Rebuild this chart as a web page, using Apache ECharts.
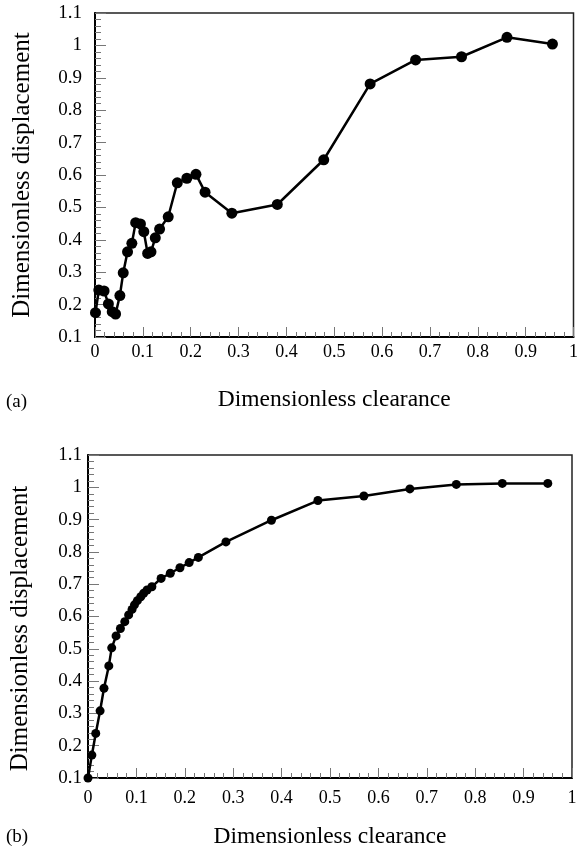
<!DOCTYPE html>
<html>
<head>
<meta charset="utf-8">
<script src="https://cdn.jsdelivr.net/npm/echarts@6/dist/echarts.min.js"></script>
<style>
html,body{margin:0;padding:0;background:#fff;}
#chart{width:581px;height:856px;}
</style>
</head>
<body>
<div id="chart"></div>
<script>
// (a) measured points
var clearanceA = [0.001,0.008,0.019,0.028,0.036,0.043,0.052,0.059,0.068,0.077,0.085,0.095,0.102,0.110,0.117,0.126,0.135,0.153,0.172,0.192,0.211,0.230,0.286,0.381,0.478,0.575,0.670,0.766,0.861,0.956];
var displacementA = [0.175,0.245,0.242,0.202,0.178,0.171,0.228,0.298,0.363,0.389,0.453,0.449,0.425,0.358,0.363,0.406,0.433,0.471,0.576,0.590,0.602,0.547,0.482,0.509,0.647,0.881,0.955,0.965,1.025,1.004];
// (b) points
var clearanceB = [0.000,0.008,0.016,0.025,0.033,0.043,0.049,0.058,0.067,0.076,0.084,0.091,0.096,0.102,0.109,0.115,0.122,0.132,0.151,0.170,0.190,0.209,0.228,0.285,0.379,0.475,0.570,0.665,0.761,0.856,0.950];
var displacementB = [0.100,0.171,0.238,0.308,0.378,0.447,0.503,0.540,0.563,0.584,0.605,0.622,0.636,0.649,0.661,0.672,0.682,0.692,0.718,0.734,0.751,0.767,0.783,0.831,0.898,0.959,0.973,0.995,1.009,1.012,1.012];

var axisFont = 'Liberation Serif';
function pairs(xs, ys){ return xs.map(function(x,i){ return [x, ys[i]]; }); }
function fmt(v){ return String(parseFloat(v.toFixed(1))); }

function xAxisCfg(gi, labelMargin, nameGap){
  return {
    type:'value', gridIndex:gi, min:0, max:1, interval:0.1,
    name:'Dimensionless clearance', nameLocation:'middle', nameGap:nameGap,
    nameTextStyle:{fontFamily:axisFont, fontSize:23.5, color:'#000'},
    axisLine:{show:true, onZero:false, lineStyle:{color:'#000', width:2}},
    axisTick:{show:true, inside:true, length:10, lineStyle:{color:'#777', width:1}},
    minorTick:{show:true, splitNumber:5, length:5, lineStyle:{color:'#777', width:1}},
    axisLabel:{fontFamily:axisFont, fontSize:18, color:'#000', margin:labelMargin, formatter:fmt},
    splitLine:{show:false}
  };
}
function yAxisCfg(gi, labelMargin, nameGap, pad){
  return {
    type:'value', gridIndex:gi, min:0.1, max:1.1, interval:0.1,
    name:'Dimensionless displacement', nameLocation:'middle', nameGap:nameGap,
    nameTextStyle:{fontFamily:axisFont, fontSize:25, color:'#000', padding:pad},
    axisLine:{show:true, onZero:false, lineStyle:{color:'#000', width:2}},
    axisTick:{show:true, inside:true, length:11, lineStyle:{color:'#777', width:1}},
    minorTick:{show:true, splitNumber:5, length:6, lineStyle:{color:'#777', width:1}},
    axisLabel:{fontFamily:axisFont, fontSize:19, color:'#000', margin:labelMargin, formatter:fmt},
    splitLine:{show:false}
  };
}

var chart = echarts.init(document.getElementById('chart'), null, {renderer:'canvas'});
chart.setOption({
  backgroundColor:'#fff',
  animation:false,
  grid:[
    {left:95, top:13, width:483, height:324, show:true, borderColor:'#222', borderWidth:1.5, containLabel:false},
    {left:86, top:455, width:486, height:323, show:true, borderColor:'#222', borderWidth:1.5, containLabel:false}
  ],
  xAxis:[ xAxisCfg(0, 6, 51), xAxisCfg(1, 11, 47) ],
  yAxis:[ yAxisCfg(0, 13, 60, [0,0,0,0]), yAxisCfg(1, 6, 55, [0,24,0,0]) ],
  graphic:[
    {type:'text', left:6, top:393, style:{text:'(a)', font:'19px "Liberation Serif"', fill:'#000'}},
    {type:'text', left:6, top:828, style:{text:'(b)', font:'19px "Liberation Serif"', fill:'#000'}}
  ],
  series:[
    {type:'line', xAxisIndex:0, yAxisIndex:0, data:pairs(clearanceA, displacementA),
     symbol:'circle', symbolSize:11, lineStyle:{color:'#000', width:2.5}, itemStyle:{color:'#000'}},
    {type:'line', xAxisIndex:1, yAxisIndex:1, data:pairs(clearanceB, displacementB),
     symbol:'circle', symbolSize:9, lineStyle:{color:'#000', width:2.5}, itemStyle:{color:'#000'}}
  ]
});
</script>
</body>
</html>
